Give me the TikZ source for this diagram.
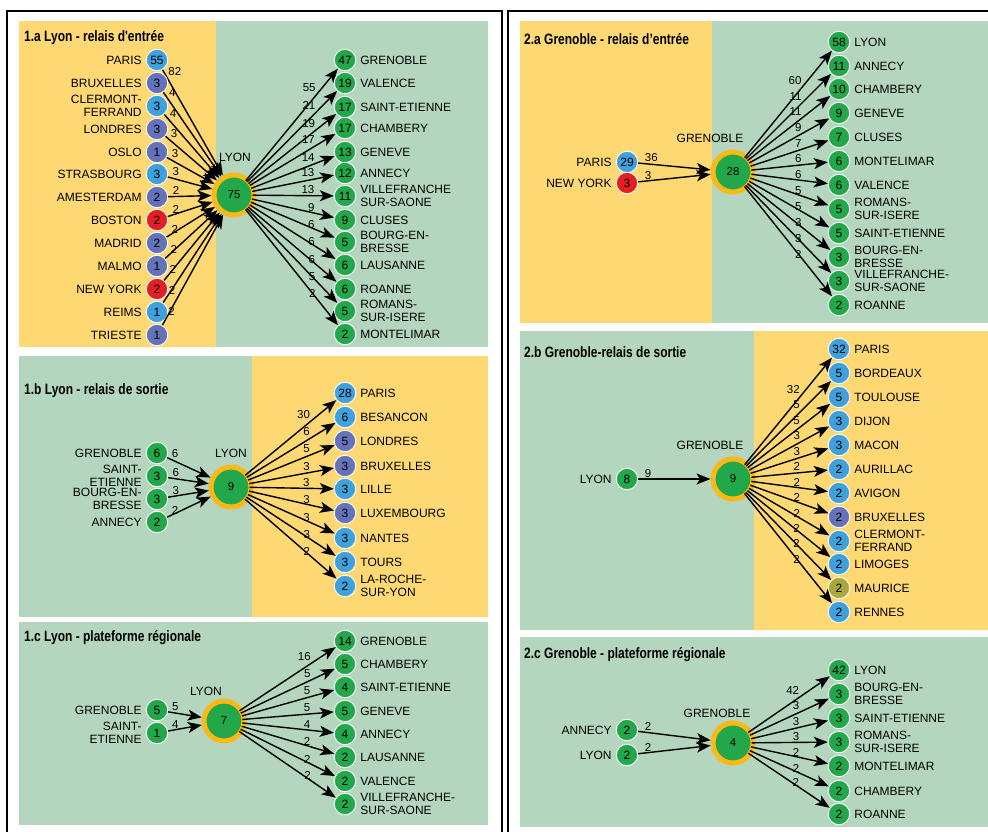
\documentclass[tikz,border=0pt]{standalone}
\usepackage{fontspec}
\setmainfont{Liberation Sans}
\newfontfamily\titlefont{Liberation Sans}[FakeStretch=0.8]
\usetikzlibrary{arrows.meta, positioning}

\definecolor{paneyellow}{HTML}{FDD873}
\definecolor{panegreen}{HTML}{B4D6BE}
\definecolor{citygreen}{HTML}{22A84A}
\definecolor{cityblue}{HTML}{3FA1DB}
\definecolor{cityslate}{HTML}{6473B9}
\definecolor{cityred}{HTML}{E31E24}
\definecolor{cityolive}{HTML}{A9A93A}
\definecolor{ringyellow}{HTML}{FBB917}

\tikzset{
	city/.style = {circle, fill=#1, draw=white, line width=0.9pt, minimum size=21.5pt, inner sep=0pt, font=\fontsize{12}{12}\selectfont},
	hub/.style = {circle, fill=citygreen, draw=ringyellow, line width=5pt, minimum size=40pt, inner sep=0pt, font=\fontsize{11.5}{11.5}\selectfont},
	hublbl/.style = {inner sep=0pt, font=\fontsize{12}{12}\selectfont},
	srclbl/.style = {align=right, inner sep=1pt, label distance=3pt, font=\fontsize{12}{12.5}\selectfont},
	dstlbl/.style = {align=left, inner sep=1pt, label distance=3pt, font=\fontsize{12}{12.5}\selectfont},
	flow/.style = {line width=1.4pt, -{Stealth[length=14pt, width=11pt, inset=3.5pt]}},
	outflow/.style = {flow, shorten <=-4pt},
	inlbl/.style = {font=\fontsize{11.5}{11.5}\selectfont, inner sep=1pt, pos=0.07, anchor=south west},
	outlbl/.style = {font=\fontsize{11.5}{11.5}\selectfont, inner sep=1pt, pos=#1, anchor=south east},
	paneltitle/.style = {anchor=west, inner sep=0pt, font=\titlefont\bfseries\fontsize{15}{15}\selectfont},
}

\begin{document}
\begin{tikzpicture}[x=1pt, y=-1pt]
	\useasboundingbox (0,0) rectangle (988,832);
	\clip (0,0) rectangle (988,832);

	% frames and panels
	\draw[line width=1.2pt] (7,11) rectangle (502,850);
	\draw[line width=1.2pt] (508,11) rectangle (1000,850);

	\fill[paneyellow] (19,21) rectangle (216,347);
	\fill[panegreen] (216,21) rectangle (488,347);
	\fill[panegreen] (19,356) rectangle (252,617);
	\fill[paneyellow] (252,356) rectangle (488,617);
	\fill[panegreen] (19,622) rectangle (488,825);

	\fill[paneyellow] (520,21) rectangle (712,323);
	\fill[panegreen] (712,21) rectangle (988,323);
	\fill[panegreen] (520,331) rectangle (754,630);
	\fill[paneyellow] (754,331) rectangle (988,630);
	\fill[panegreen] (520,637) rectangle (988,827);

	\node[paneltitle] (title1a) at (24,38) {1.a Lyon - relais d'entrée};
	\node[paneltitle] (title1b) at (24,391) {1.b Lyon - relais de sortie};
	\node[paneltitle] (title1c) at (24,638) {1.c Lyon - plateforme régionale};
	\node[paneltitle] (title2a) at (524,39) {2.a Grenoble - relais d’entrée};
	\node[paneltitle] (title2b) at (524,352) {2.b Grenoble-relais de sortie};
	\node[paneltitle] (title2c) at (524,655) {2.c Grenoble - plateforme régionale};

	% 1.a
	\node[hub] (lyonA) at (234,195) {75};
	\node[hublbl] (lyonAname) at (235,157) {LYON};
	\foreach \y/\v/\c/\w/\name [count=\k] in {60/55/cityblue/82/PARIS, 83/3/cityslate/4/BRUXELLES, 106/3/cityblue/4/{CLERMONT-\\FERRAND}, 129/3/cityslate/3/LONDRES, 152/1/cityslate/3/OSLO, 174/3/cityblue/3/STRASBOURG, 197/2/cityslate/2/AMESTERDAM, 220/2/cityred/2/BOSTON, 243/2/cityslate/2/MADRID, 266/1/cityslate/2/MALMO, 289/2/cityred/2/NEW YORK, 312/1/cityblue/2/REIMS, 335/1/cityslate/2/TRIESTE}
	{
		\node[city=\c, label={[srclbl]left:\name}] (inA\k) at (157,\y) {\v};
		\draw[flow] (inA\k) -- node[inlbl] {\w} (lyonA);
	}
	\foreach \y/\v/\w/\name [count=\k] in {60/47/55/GRENOBLE, 83/19/21/VALENCE, 107/17/19/SAINT-ETIENNE, 128/17/17/CHAMBERY, 152/13/14/GENEVE, 173/12/13/ANNECY, 196/11/13/{VILLEFRANCHE\\SUR-SAONE}, 220/9/9/CLUSES, 242/5/6/{BOURG-EN-\\BRESSE}, 265/6/6/LAUSANNE, 289/6/6/ROANNE, 311/5/5/{ROMANS-\\SUR-ISERE}, 334/2/2/MONTELIMAR}
	{
		\node[city=citygreen, label={[dstlbl]right:\name}] (outA\k) at (345,\y) {\v};
		\draw[outflow] (lyonA) -- node[outlbl=0.77] {\w} (outA\k);
	}

	% 1.b
	\node[hub] (lyonB) at (231,487) {9};
	\node[hublbl] (lyonBname) at (231,453) {LYON};
	\foreach \y/\v/\w/\name [count=\k] in {453/6/6/GRENOBLE, 476/3/6/{SAINT-\\ETIENNE}, 499/3/3/{BOURG-EN-\\BRESSE}, 522/2/2/ANNECY}
	{
		\node[city=citygreen, label={[srclbl]left:\name}] (inB\k) at (157,\y) {\v};
		\draw[flow] (inB\k) -- node[inlbl] {\w} (lyonB);
	}
	\foreach \y/\v/\c/\w/\name [count=\k] in {393/28/cityblue/30/PARIS, 417/6/cityblue/6/BESANCON, 441/5/cityslate/5/LONDRES, 466/3/cityslate/3/BRUXELLES, 489/3/cityblue/3/LILLE, 513/3/cityslate/3/LUXEMBOURG, 538/3/cityblue/3/NANTES, 562/3/cityblue/3/TOURS, 586/2/cityblue/2/{LA-ROCHE-\\SUR-YON}}
	{
		\node[city=\c, label={[dstlbl]right:\name}] (outB\k) at (345,\y) {\v};
		\draw[outflow] (lyonB) -- node[outlbl=0.72] {\w} (outB\k);
	}

	% 1.c
	\node[hub] (lyonC) at (224,721) {7};
	\node[hublbl] (lyonCname) at (206,691) {LYON};
	\foreach \y/\v/\w/\name [count=\k] in {710/5/5/GRENOBLE, 733/1/4/{SAINT-\\ETIENNE}}
	{
		\node[city=citygreen, label={[srclbl]left:\name}] (inC\k) at (157,\y) {\v};
		\draw[flow] (inC\k) -- node[inlbl] {\w} (lyonC);
	}
	\foreach \y/\v/\w/\name [count=\k] in {641/14/16/GRENOBLE, 664/5/5/CHAMBERY, 687/4/5/SAINT-ETIENNE, 711/5/5/GENEVE, 734/4/4/ANNECY, 757/2/2/LAUSANNE, 781/2/2/VALENCE, 804/2/2/{VILLEFRANCHE-\\SUR-SAONE}}
	{
		\node[city=citygreen, label={[dstlbl]right:\name}] (outC\k) at (345,\y) {\v};
		\draw[outflow] (lyonC) -- node[outlbl=0.75] {\w} (outC\k);
	}

	% 2.a
	\node[hub] (greA) at (733,172) {28};
	\node[hublbl] (greAname) at (710,138) {GRENOBLE};
	\foreach \y/\v/\c/\w/\name [count=\k] in {162/29/cityblue/36/PARIS, 183/3/cityred/3/NEW YORK}
	{
		\node[city=\c, label={[srclbl]left:\name}] (inD\k) at (627,\y) {\v};
		\draw[flow] (inD\k) -- node[inlbl] {\w} (greA);
	}
	\foreach \y/\v/\w/\name [count=\k] in {42/58/60/LYON, 66/11/11/ANNECY, 89/10/11/CHAMBERY, 113/9/9/GENEVE, 137/7/7/CLUSES, 161/6/6/MONTELIMAR, 185/6/6/VALENCE, 209/5/5/{ROMANS-\\SUR-ISERE}, 233/5/5/SAINT-ETIENNE, 257/3/3/{BOURG-EN-\\BRESSE}, 281/3/3/{VILLEFRANCHE-\\SUR-SAONE}, 305/2/2/ROANNE}
	{
		\node[city=citygreen, label={[dstlbl]right:\name}] (outD\k) at (839,\y) {\v};
		\draw[outflow] (greA) -- node[outlbl=0.66] {\w} (outD\k);
	}

	% 2.b
	\node[hub] (greB) at (733,479) {9};
	\node[hublbl] (greBname) at (710,445) {GRENOBLE};
	\node[city=citygreen, label={[srclbl]left:LYON}] (inE1) at (627,479) {8};
	\draw[flow] (inE1) -- node[inlbl] {9} (greB);
	\foreach \y/\v/\c/\name [count=\k] in {349/32/cityblue/PARIS, 373/5/cityblue/BORDEAUX, 397/5/cityblue/TOULOUSE, 421/3/cityblue/DIJON, 445/3/cityblue/MACON, 469/2/cityblue/AURILLAC, 493/2/cityblue/AVIGON, 517/2/cityslate/BRUXELLES, 541/2/cityblue/{CLERMONT-\\FERRAND}, 564/2/cityblue/LIMOGES, 588/2/cityolive/MAURICE, 612/2/cityblue/RENNES}
	{
		\node[city=\c, label={[dstlbl]right:\name}] (outE\k) at (839,\y) {\v};
		\draw[outflow] (greB) -- node[outlbl=0.64] {\v} (outE\k);
	}

	% 2.c
	\node[hub] (greC) at (733,743) {4};
	\node[hublbl] (greCname) at (717,713) {GRENOBLE};
	\foreach \y/\v/\w/\name [count=\k] in {730/2/2/ANNECY, 755/2/2/LYON}
	{
		\node[city=citygreen, label={[srclbl]left:\name}] (inF\k) at (627,\y) {\v};
		\draw[flow] (inF\k) -- node[inlbl] {\w} (greC);
	}
	\foreach \y/\v/\w/\name [count=\k] in {670/42/42/LYON, 694/3/3/{BOURG-EN-\\BRESSE}, 718/3/3/SAINT-ETIENNE, 742/3/3/{ROMANS-\\SUR-ISERE}, 766/2/2/MONTELIMAR, 791/2/2/CHAMBERY, 814/2/2/ROANNE}
	{
		\node[city=citygreen, label={[dstlbl]right:\name}] (outF\k) at (839,\y) {\v};
		\draw[outflow] (greC) -- node[outlbl=0.63] {\w} (outF\k);
	}
\end{tikzpicture}
\end{document}
